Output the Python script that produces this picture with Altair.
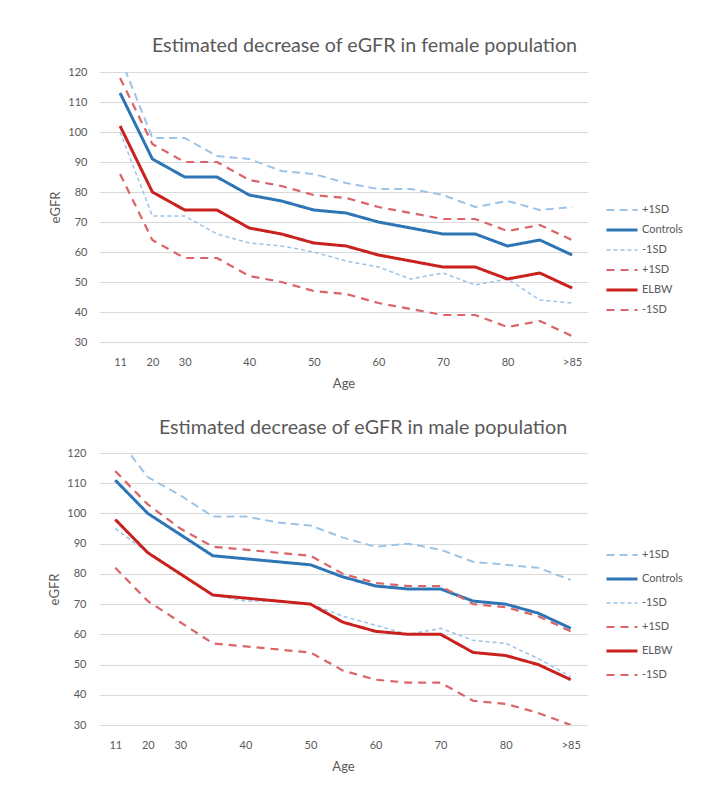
import altair as alt
import pandas as pd

ages = ["11", "20", "30", "35", "40", "45", "50", "55", "60", "65", "70", "75", "80", "85", ">85"]
shown_labels = ["11", "20", "30", "40", "50", "60", "70", "80", ">85"]

series_keys = ["C+1SD", "Controls", "C-1SD", "E+1SD", "ELBW", "E-1SD"]

# Female population
f_ctrl_plus = [125, 98, 98, 92, 91, 87, 86, 83, 81, 81, 79, 75, 77, 74, 75]
f_controls = [113, 91, 85, 85, 79, 77, 74, 73, 70, 68, 66, 66, 62, 64, 59]
f_ctrl_minus = [100, 72, 72, 66, 63, 62, 60, 57, 55, 51, 53, 49, 51, 44, 43]
f_elbw_plus = [118, 96, 90, 90, 84, 82, 79, 78, 75, 73, 71, 71, 67, 69, 64]
f_elbw = [102, 80, 74, 74, 68, 66, 63, 62, 59, 57, 55, 55, 51, 53, 48]
f_elbw_minus = [86, 64, 58, 58, 52, 50, 47, 46, 43, 41, 39, 39, 35, 37, 32]

# Male population
m_ctrl_plus = [126, 112, 106, 99, 99, 97, 96, 92, 89, 90, 88, 84, 83, 82, 78]
m_controls = [111, 100, 93, 86, 85, 84, 83, 79, 76, 75, 75, 71, 70, 67, 62]
m_ctrl_minus = [95, 87, 80, 73, 71, 71, 70, 66, 63, 60, 62, 58, 57, 52, 46]
m_elbw_plus = [114, 103, 95, 89, 88, 87, 86, 80, 77, 76, 76, 70, 69, 66, 61]
m_elbw = [98, 87, 80, 73, 72, 71, 70, 64, 61, 60, 60, 54, 53, 50, 45]
m_elbw_minus = [82, 71, 64, 57, 56, 55, 54, 48, 45, 44, 44, 38, 37, 34, 30]

colors = ["#9DC3E6", "#2E75B6", "#9DC3E6", "#DB6468", "#C9211E", "#DB6468"]
dashes = [[8, 5], [1, 0], [4, 3], [8, 6], [1, 0], [8, 6]]
widths = [2, 3, 1.5, 2.2, 3, 2.2]

FONT = "Lato"
GRAY = "#595959"


def long_df(values):
    rows = []
    for key, vals in zip(series_keys, values):
        for i, (a, v) in enumerate(zip(ages, vals)):
            rows.append({"age": a, "eGFR": v, "series": key, "idx": i})
    return pd.DataFrame(rows)


label_list = ",".join("'" + s + "'" for s in shown_labels)
x_label_expr = f"indexof([{label_list}], datum.label) >= 0 ? datum.label : ''"
legend_label_expr = "(datum.label == 'Controls' || datum.label == 'ELBW') ? datum.label : substring(datum.label, 1)"


def panel(values, title, w, h, pad, align, legend_x, legend_y, row_h, title_dx, title_offset, ylab_pad):
    df = long_df(values)
    legend = alt.Legend(
        title=None,
        orient="none",
        legendX=legend_x,
        legendY=legend_y,
        symbolType="stroke",
        symbolSize=961,
        clipHeight=row_h,
        rowPadding=0,
        labelOffset=3,
        labelFont=FONT,
        labelFontSize=11,
        labelColor=GRAY,
        labelExpr=legend_label_expr,
    )
    base = alt.Chart(df, title=alt.Title(
        title, font=FONT, fontSize=19.7, fontWeight="normal", color=GRAY,
        dx=title_dx, offset=title_offset))
    return base.mark_line(clip=True, strokeJoin="round").encode(
        x=alt.X("age:N", sort=ages,
                scale=alt.Scale(type="point", padding=pad, align=align),
                axis=alt.Axis(title="Age", labelAngle=0, labelExpr=x_label_expr,
                              ticks=False, tickSize=0, domain=False, grid=False,
                              labelPadding=14, titlePadding=10,
                              labelFont=FONT, labelFontSize=11, labelColor=GRAY,
                              titleFont=FONT, titleFontSize=13, titleFontWeight="normal",
                              titleColor=GRAY)),
        y=alt.Y("eGFR:Q",
                scale=alt.Scale(domain=[30, 120], nice=False, zero=False),
                axis=alt.Axis(title="eGFR", values=list(range(30, 121, 10)),
                              ticks=False, tickSize=0, domain=False,
                              gridColor="#D9D9D9", gridWidth=1,
                              labelPadding=ylab_pad, titlePadding=5,
                              labelFont=FONT, labelFontSize=11, labelColor=GRAY,
                              titleFont=FONT, titleFontSize=13, titleFontWeight="normal",
                              titleColor=GRAY)),
        color=alt.Color("series:N", scale=alt.Scale(type="ordinal", domain=series_keys, range=colors), legend=legend),
        strokeDash=alt.StrokeDash("series:N", scale=alt.Scale(type="ordinal", domain=series_keys, range=dashes), legend=legend),
        strokeWidth=alt.StrokeWidth("series:N", scale=alt.Scale(type="ordinal", domain=series_keys, range=widths), legend=legend),
        order=alt.Order("idx:Q"),
    ).properties(width=w, height=h)


female = panel([f_ctrl_plus, f_controls, f_ctrl_minus, f_elbw_plus, f_elbw, f_elbw_minus],
               "Estimated decrease of eGFR in female population",
               489, 270, 0.573, 0.57, 506, 128, 20, 21, 10, 12)
male = panel([m_ctrl_plus, m_controls, m_ctrl_minus, m_elbw_plus, m_elbw, m_elbw_minus],
             "Estimated decrease of eGFR in male population",
             488, 272, 0.5, 0.5, 506, 90, 24, 20, 9, 13)

chart = alt.vconcat(female, male, spacing=28).resolve_scale(
    color="independent", strokeDash="independent", strokeWidth="independent"
).properties(
    padding={"left": 40, "top": 28, "right": 5, "bottom": 5}
).configure(background="white").configure_view(stroke=None)

chart.save("out.html", embed_options={"renderer": "svg", "actions": False})
